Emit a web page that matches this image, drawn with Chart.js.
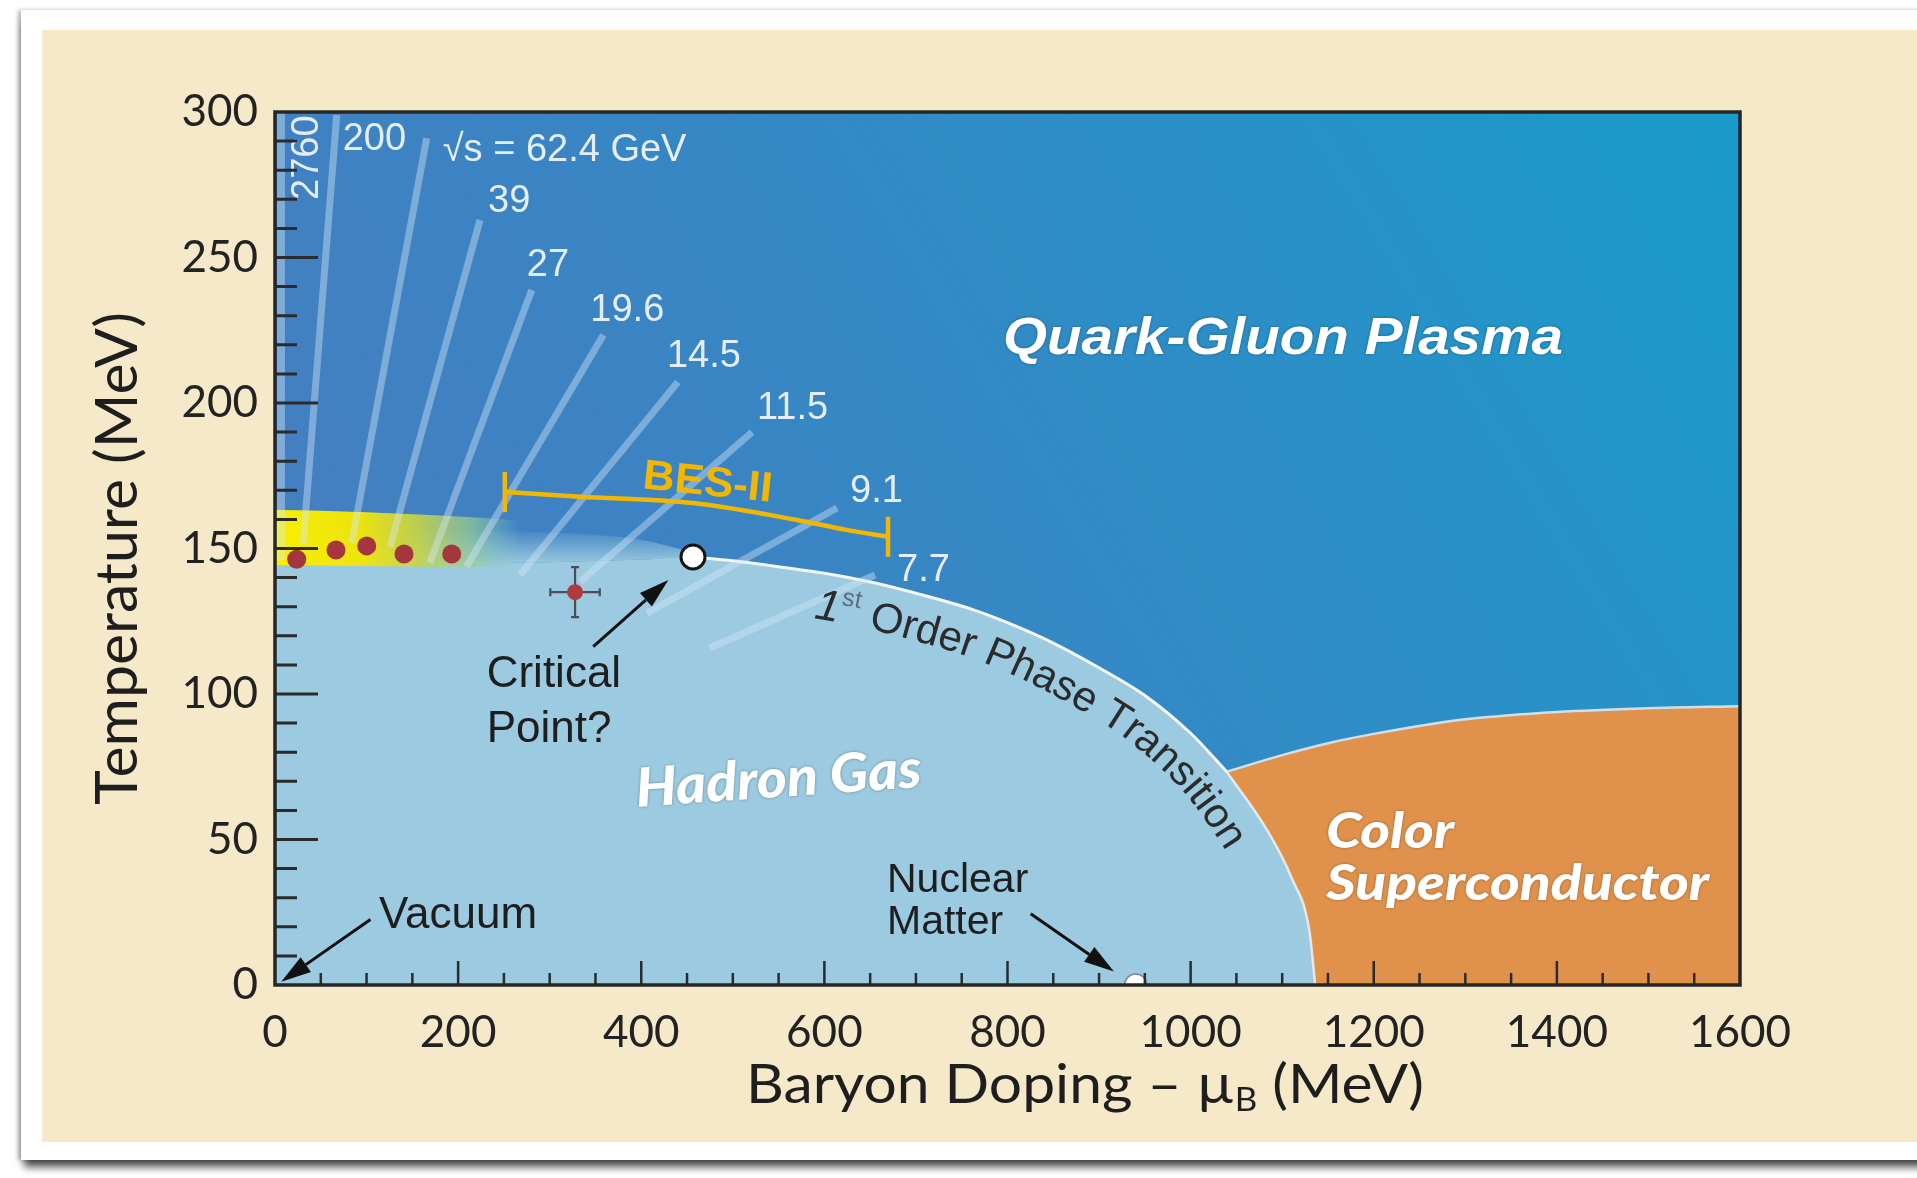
<!DOCTYPE html>
<html>
<head>
<meta charset="utf-8">
<title>QCD phase diagram</title>
<script src="https://cdn.jsdelivr.net/npm/chart.js@4.4.1/dist/chart.umd.min.js"></script>
<style>
  html, body { margin:0; padding:0; width:1917px; height:1178px; overflow:hidden; background:#ffffff; }
  #card { position:absolute; left:21px; top:10px; width:1910px; height:1150px; background:#ffffff;
          box-shadow: -3px 0 4px rgba(0,0,0,0.28), 0 10px 8px -3px rgba(0,0,0,0.7); }
  #panel { position:absolute; left:42px; top:30px; width:1875px; height:1112px; background:#f5e9ca; }
  #panel canvas { position:absolute; left:0; top:0; }
</style>
</head>
<body>
<div id="card"></div>
<div id="panel"><canvas id="phase" width="1875" height="1112"></canvas></div>
<script>
const SANS = '"Liberation Sans", Arial, Helvetica, sans-serif';
const LATO = 'Lato, "Liberation Sans", sans-serif';

// ---------- axis ticks (MeV) ----------
const muTicks   = [0, 200, 400, 600, 800, 1000, 1200, 1400, 1600];
const tempTicks = [0, 50, 100, 150, 200, 250, 300];

// ---------- phase boundaries: baryon chemical potential μB and temperature T (MeV) ----------
const crossoverMu    = [0, 100, 200, 300, 400, 456.5];
const crossoverT     = [145, 145, 145, 145.3, 146.2, 147.1];
const crossoverFadeT = [156, 156, 156, 155.5, 153, 148.5];

const firstOrderMu = [456.5, 500, 560, 600, 653, 700, 762, 800, 850, 900, 950, 1000, 1039.4];
const firstOrderT  = [147.1, 145.8, 143.3, 141.5, 138.3, 134.6, 129, 124.5, 117.5, 109, 99.5, 86.5, 73.3];

const hadronCscMu = [1039.4, 1083, 1110, 1130, 1136];
const hadronCscT  = [73.3, 53.5, 37, 18, 0];

const cscTopMu = [1039.4, 1100, 1156, 1200, 1265, 1300, 1400, 1500, 1600];
const cscTopT  = [73.3, 79, 83.5, 86.3, 89.8, 91.3, 93.8, 95.1, 95.8];

// crossover band from lattice QCD
const bandMu      = [0, 50, 100, 150, 200, 250, 265];
const bandTopT    = [163.2, 163, 162.5, 161.8, 161, 160, 159.5];
const bandBottomT = [144.3, 144.2, 144, 143.8, 143.7, 143.8, 144];

// ---------- collision-energy trajectories ----------
const beamLabels = ['2760', '200', '\u221As = 62.4 GeV', '39', '27', '19.6', '14.5', '11.5', '9.1', '7.7'];
const beamTopMu  = [6.5, 67.4, 165.7, 223.9, 280.4, 358.6, 440, 521, 613.8, 655.3];
const beamTopT   = [300, 299, 291, 262.9, 238.8, 223.4, 207.2, 190, 163.9, 140.9];
const beamEndMu  = [6.5, 30.9, 83.8, 125.6, 169, 209, 267.6, 333, 406, 475];
const beamEndT   = [146, 151.9, 151.9, 150.5, 145, 143.7, 140.9, 138.5, 127.8, 115.8];

// ---------- BES-II coverage ----------
const besMu = [251, 333, 456.5, 570, 624, 669.5];
const besT  = [169.4, 167.8, 165.6, 159.8, 156.4, 154];
const besCapHalf = 6.9;

// ---------- points ----------
const freezeMu = [23.7, 66.6, 100.2, 140.9, 193];
const freezeT  = [146.3, 149.5, 150.9, 148.1, 148.1];
const latticeMu = [327.7], latticeT = [135], latticeErrMu = [27], latticeErrT = [8.6];
const criticalMu = [456.5], criticalT = [147.1];
const nuclearMu = [940], nuclearT = [0];

const pts = (xs, ys) => xs.map((x, i) => ({ x, y: ys[i] }));
const hadronMu = crossoverMu.concat(firstOrderMu.slice(1), hadronCscMu.slice(1));
const hadronT  = crossoverT.concat(firstOrderT.slice(1), hadronCscT.slice(1));

const NONE = 'rgba(0,0,0,0)';

function bandFill(context) {
  const chart = context.chart;
  if (!chart.chartArea) return 'rgba(245,232,0,0.9)';
  const xs = chart.scales.x;
  const g = chart.ctx.createLinearGradient(xs.getPixelForValue(0), 0, xs.getPixelForValue(270), 0);
  g.addColorStop(0.00, 'rgba(250,238,0,1)');
  g.addColorStop(0.35, 'rgba(240,230,10,0.97)');
  g.addColorStop(0.58, 'rgba(200,212,70,0.9)');
  g.addColorStop(0.80, 'rgba(150,205,150,0.7)');
  g.addColorStop(1.00, 'rgba(130,200,200,0)');
  return g;
}

function fadeFill(context) {
  const chart = context.chart;
  if (!chart.chartArea) return 'rgba(156,202,224,0.5)';
  const ys = chart.scales.y;
  const g = chart.ctx.createLinearGradient(0, ys.getPixelForValue(157), 0, ys.getPixelForValue(144.5));
  g.addColorStop(0, 'rgba(156,202,224,0)');
  g.addColorStop(1, 'rgba(156,202,224,1)');
  return g;
}

const datasets = [
  { label: 'Color superconductor', data: pts(cscTopMu, cscTopT), fill: 'origin', backgroundColor: '#e0924c',
    borderColor: 'rgba(214,228,238,0.95)', borderWidth: 2.5, cubicInterpolationMode: 'monotone', order: 100 },
  { label: 'Hadron gas', data: pts(hadronMu, hadronT), fill: 'origin', backgroundColor: '#9ccae0',
    borderColor: NONE, borderWidth: 0, cubicInterpolationMode: 'monotone', order: 90 },
  { label: 'Crossover edge', data: pts(crossoverMu, crossoverFadeT), fill: '+1', backgroundColor: fadeFill,
    borderColor: NONE, borderWidth: 0, cubicInterpolationMode: 'monotone', order: 85 },
  { label: 'Crossover', data: pts(crossoverMu, crossoverT), fill: false,
    borderColor: NONE, borderWidth: 0, cubicInterpolationMode: 'monotone', order: 86 },
  { label: '1st order', data: pts(firstOrderMu, firstOrderT), fill: false,
    borderColor: '#f3f7fa', borderWidth: 3, cubicInterpolationMode: 'monotone', order: 80 },
  { label: 'Hadron / CSC', data: pts(hadronCscMu, hadronCscT), fill: false,
    borderColor: 'rgba(236,242,246,0.85)', borderWidth: 2.5, cubicInterpolationMode: 'monotone', order: 80 },
  { label: 'Crossover band', data: pts(bandMu, bandTopT), fill: '+1', backgroundColor: bandFill,
    borderColor: NONE, borderWidth: 0, cubicInterpolationMode: 'monotone', order: 70 },
  { label: 'Crossover band low', data: pts(bandMu, bandBottomT), fill: false,
    borderColor: NONE, borderWidth: 0, cubicInterpolationMode: 'monotone', order: 71 }
];

beamLabels.forEach((lab, i) => {
  datasets.push({
    label: 'beam ' + lab,
    data: [{ x: beamEndMu[i], y: beamEndT[i] }, { x: beamTopMu[i], y: beamTopT[i] }],
    borderColor: 'rgba(214,232,250,0.42)', borderWidth: i === 0 ? 8 : 7, fill: false, order: 60
  });
});

const BES_GOLD = '#f2b705';
datasets.push(
  { label: 'BES-II', data: pts(besMu, besT), borderColor: BES_GOLD, borderWidth: 4.5, fill: false,
    cubicInterpolationMode: 'monotone', order: 50 },
  { label: 'BES-II cap low', data: [{ x: besMu[0], y: besT[0] - besCapHalf }, { x: besMu[0], y: besT[0] + besCapHalf }],
    borderColor: BES_GOLD, borderWidth: 4.5, fill: false, order: 50 },
  { label: 'BES-II cap high', data: [{ x: besMu[besMu.length - 1], y: besT[besT.length - 1] - besCapHalf },
    { x: besMu[besMu.length - 1], y: besT[besT.length - 1] + besCapHalf }],
    borderColor: BES_GOLD, borderWidth: 4.5, fill: false, order: 50 },
  { label: 'Freeze-out', data: pts(freezeMu, freezeT), showLine: false, pointRadius: 9.5,
    pointBackgroundColor: '#a5363f', pointBorderWidth: 0, order: 10 },
  { label: 'lattice', data: pts(latticeMu, latticeT), showLine: false, pointRadius: 8,
    pointBackgroundColor: '#b03a42', pointBorderWidth: 0, order: 10 },
  { label: 'Critical point', data: pts(criticalMu, criticalT), showLine: false, pointRadius: 12,
    pointBackgroundColor: '#ffffff', pointBorderColor: '#141414', pointBorderWidth: 3, order: 5 },
  { label: 'Nuclear matter', data: pts(nuclearMu, nuclearT), showLine: false, pointRadius: 11,
    pointBackgroundColor: '#ffffff', pointBorderColor: 'rgba(110,110,110,0.8)', pointBorderWidth: 1.5, order: 5 }
);

// ---------- annotations ----------
// label offsets (px) from the upper end of each trajectory
const beamLabelOffsets = [[37.5, 88], [6, 35], [16, 23], [8, -8], [-5, -14], [-13, -14], [-11, -15], [5, -13], [13, -6], [22, 6]];

const arrows = [
  { from: [347.6, 116.3], to: [429.6, 139.2] },  // critical point
  { from: [104.2, 22.5], to: [6.8, 1.1] },       // vacuum
  { from: [825.3, 24.5], to: [916.2, 4.6] }      // nuclear matter
];

function catmull(p, n) {
  const out = [];
  for (let i = 0; i < p.length - 1; i++) {
    const p0 = p[Math.max(i - 1, 0)], p1 = p[i], p2 = p[i + 1], p3 = p[Math.min(i + 2, p.length - 1)];
    for (let k = 0; k < n; k++) {
      const t = k / n, t2 = t * t, t3 = t2 * t;
      const f = (a, b, c, d) => 0.5 * (2 * b + (-a + c) * t + (2 * a - 5 * b + 4 * c - d) * t2 + (-a + 3 * b - 3 * c + d) * t3);
      out.push({ x: f(p0.x, p1.x, p2.x, p3.x), y: f(p0.y, p1.y, p2.y, p3.y) });
    }
  }
  out.push(p[p.length - 1]);
  return out;
}

function drawRuns(ctx, runs, x, y, targetWidth, angle) {
  let total = 0;
  runs.forEach(r => { ctx.font = r.font; r.w = ctx.measureText(r.text).width; total += r.w; });
  const sx = targetWidth ? targetWidth / total : 1;
  ctx.save();
  ctx.translate(x, y);
  if (angle) ctx.rotate(angle);
  ctx.scale(sx, 1);
  ctx.textAlign = 'left';
  ctx.textBaseline = 'alphabetic';
  let cx = 0;
  runs.forEach(r => { ctx.font = r.font; ctx.fillStyle = r.color; ctx.fillText(r.text, cx, r.dy || 0); cx += r.w; });
  ctx.restore();
  return sx;
}

function drawArrow(ctx, x1, y1, x2, y2) {
  const ang = Math.atan2(y2 - y1, x2 - x1), head = 30, half = 9;
  const bx = x2 - Math.cos(ang) * head, by = y2 - Math.sin(ang) * head;
  ctx.beginPath(); ctx.moveTo(x1, y1); ctx.lineTo(bx, by); ctx.stroke();
  ctx.beginPath();
  ctx.moveTo(x2, y2);
  ctx.lineTo(bx + Math.sin(ang) * half, by - Math.cos(ang) * half);
  ctx.lineTo(bx - Math.sin(ang) * half, by + Math.cos(ang) * half);
  ctx.closePath(); ctx.fill();
}

function drawCurvedLabel(chart, ctx) {
  const xs = chart.scales.x, ys = chart.scales.y;
  const mus = firstOrderMu.concat(hadronCscMu.slice(1));
  const ts = firstOrderT.concat(hadronCscT.slice(1));
  const raw = mus.map((m, i) => ({ x: xs.getPixelForValue(m), y: ys.getPixelForValue(ts[i]) }));
  const dense = catmull(raw, 24);
  const off = 46;
  const path = dense.map((p, i) => {
    const a = dense[Math.max(i - 1, 0)], b = dense[Math.min(i + 1, dense.length - 1)];
    let tx = b.x - a.x, ty = b.y - a.y; const L = Math.hypot(tx, ty) || 1; tx /= L; ty /= L;
    return { x: p.x - ty * off, y: p.y + tx * off };
  });
  const cum = [0];
  for (let i = 1; i < path.length; i++) cum.push(cum[i - 1] + Math.hypot(path[i].x - path[i - 1].x, path[i].y - path[i - 1].y));
  const at = s => {
    let j = 0;
    while (j < cum.length - 2 && cum[j + 1] < s) j++;
    const a = path[j], b = path[j + 1], seg = (cum[j + 1] - cum[j]) || 1, f = (s - cum[j]) / seg;
    return { x: a.x + (b.x - a.x) * f, y: a.y + (b.y - a.y) * f, ang: Math.atan2(b.y - a.y, b.x - a.x) };
  };
  const startX = xs.getPixelForValue(595);
  let i0 = dense.findIndex(p => p.x >= startX);
  let s = cum[Math.max(i0, 0)];
  const runs = [
    { text: '1', font: 'italic 44px ' + SANS, color: '#2b2b2b', rise: 0 },
    { text: 'st', font: '25px ' + SANS, color: '#5f6e7c', rise: 18 },
    { text: ' Order Phase Transition', font: '42px ' + SANS, color: '#2b2b2b', rise: 0 }
  ];
  ctx.save();
  ctx.textAlign = 'center';
  ctx.textBaseline = 'alphabetic';
  runs.forEach(r => {
    ctx.font = r.font; ctx.fillStyle = r.color;
    for (const ch of r.text) {
      const w = ctx.measureText(ch).width;
      const p = at(s + w / 2);
      ctx.save(); ctx.translate(p.x, p.y); ctx.rotate(p.ang); ctx.fillText(ch, 0, -r.rise); ctx.restore();
      s += w;
    }
  });
  ctx.restore();
}

const phasePlugin = {
  id: 'phaseDiagram',
  beforeDatasetsDraw(chart) {
    const { ctx, chartArea: a } = chart;
    const g = ctx.createLinearGradient(a.left, a.bottom, a.right, a.top);
    g.addColorStop(0.00, '#4a7cbf');
    g.addColorStop(0.35, '#3c83c3');
    g.addColorStop(0.70, '#2b8fc7');
    g.addColorStop(1.00, '#1a9bca');
    ctx.save(); ctx.fillStyle = g; ctx.fillRect(a.left, a.top, a.width, a.height); ctx.restore();
  },
  beforeDatasetDraw(chart, args) {
    if (chart.data.datasets[args.index].label !== 'lattice') return;
    const { ctx } = chart, xs = chart.scales.x, ys = chart.scales.y;
    ctx.save();
    ctx.strokeStyle = '#4d4d55'; ctx.lineWidth = 2.2;
    latticeMu.forEach((m, i) => {
      const x = xs.getPixelForValue(m), y = ys.getPixelForValue(latticeT[i]);
      const xl = xs.getPixelForValue(m - latticeErrMu[i]), xr = xs.getPixelForValue(m + latticeErrMu[i]);
      const yt = ys.getPixelForValue(latticeT[i] + latticeErrT[i]), yb = ys.getPixelForValue(latticeT[i] - latticeErrT[i]);
      ctx.beginPath();
      ctx.moveTo(xl, y); ctx.lineTo(xr, y); ctx.moveTo(x, yt); ctx.lineTo(x, yb);
      ctx.moveTo(xl, y - 4); ctx.lineTo(xl, y + 4); ctx.moveTo(xr, y - 4); ctx.lineTo(xr, y + 4);
      ctx.moveTo(x - 4, yt); ctx.lineTo(x + 4, yt); ctx.moveTo(x - 4, yb); ctx.lineTo(x + 4, yb);
      ctx.stroke();
    });
    ctx.restore();
  },
  afterDatasetsDraw(chart) {
    const { ctx, chartArea: a } = chart, xs = chart.scales.x, ys = chart.scales.y;
    const P = (m, t) => [xs.getPixelForValue(m), ys.getPixelForValue(t)];
    ctx.save();

    // collision energy labels
    ctx.fillStyle = 'rgba(236,243,250,0.96)';
    ctx.font = '38px ' + SANS;
    ctx.textBaseline = 'alphabetic';
    ctx.textAlign = 'left';
    beamLabels.forEach((lab, i) => {
      const [x, y] = P(beamTopMu[i], beamTopT[i]);
      const [dx, dy] = beamLabelOffsets[i];
      if (i === 0) {
        ctx.save(); ctx.translate(x + dx, y + dy); ctx.rotate(-Math.PI / 2); ctx.fillText(lab, 0, 0); ctx.restore();
      } else {
        ctx.fillText(lab, x + dx, y + dy);
      }
    });

    // BES-II label
    {
      const [x, y] = P(400.5, 170.7);
      drawRuns(ctx, [{ text: 'BES-II', font: 'bold 42px ' + SANS, color: BES_GOLD }], x, y, 130, 6 * Math.PI / 180);
    }

    // region names
    ctx.shadowColor = 'rgba(0,0,0,0.35)'; ctx.shadowBlur = 3;
    {
      const [x, y] = P(795, 216.8);
      drawRuns(ctx, [{ text: 'Quark-Gluon Plasma', font: 'italic bold 52px ' + SANS, color: '#ffffff' }], x, y, 560);
    }
    {
      const [x, y] = P(395.4, 61.2);
      drawRuns(ctx, [{ text: 'Hadron Gas', font: 'italic 900 54px ' + LATO, color: '#ffffff' }], x, y, 286, -4 * Math.PI / 180);
    }
    {
      const [x, y2] = P(1148, 29.2);
      const sx = drawRuns(ctx, [{ text: 'Superconductor', font: 'italic 900 50px ' + LATO, color: '#ffffff' }], x, y2, 383);
      const [, y1] = P(1148, 47.1);
      ctx.save(); ctx.font = 'italic 900 50px ' + LATO;
      const w = ctx.measureText('Color').width; ctx.restore();
      drawRuns(ctx, [{ text: 'Color', font: 'italic 900 50px ' + LATO, color: '#ffffff' }], x, y1, w * sx);
    }
    ctx.shadowColor = 'rgba(0,0,0,0)'; ctx.shadowBlur = 0;

    // dark annotations
    ctx.fillStyle = '#1e1e1e';
    ctx.textAlign = 'left';
    ctx.font = '44px ' + SANS;
    { const [x, y] = P(231.2, 102.5); ctx.fillText('Critical', x, y); ctx.fillText('Point?', x, y + 55); }
    { const [x, y] = P(113.6, 19.6); ctx.fillText('Vacuum', x, y); }
    ctx.font = '41px ' + SANS;
    { const [x, y] = P(668.4, 32.1); ctx.fillText('Nuclear', x, y); ctx.fillText('Matter', x, y + 42); }

    // arrows
    ctx.strokeStyle = '#111'; ctx.fillStyle = '#111'; ctx.lineWidth = 3;
    arrows.forEach(ar => {
      const [x1, y1] = P(ar.from[0], ar.from[1]);
      const [x2, y2] = P(ar.to[0], ar.to[1]);
      drawArrow(ctx, x1, y1, x2, y2);
    });

    drawCurvedLabel(chart, ctx);

    // inward tick marks
    ctx.strokeStyle = '#2b2b2b';
    ctx.lineWidth = 3;
    ctx.beginPath();
    for (let v = tempTicks[0] + 10; v < tempTicks[tempTicks.length - 1]; v += 10) {
      const y = ys.getPixelForValue(v), len = tempTicks.includes(v) ? 43 : 22;
      ctx.moveTo(a.left, y); ctx.lineTo(a.left + len, y);
    }
    ctx.stroke();
    ctx.lineWidth = 2.5;
    ctx.beginPath();
    for (let v = muTicks[0] + 50; v < muTicks[muTicks.length - 1]; v += 50) {
      const x = xs.getPixelForValue(v), len = muTicks.includes(v) ? 24 : 12;
      ctx.moveTo(x, a.bottom); ctx.lineTo(x, a.bottom - len);
    }
    ctx.stroke();

    // frame
    ctx.lineWidth = 3.5;
    ctx.strokeStyle = '#262626';
    ctx.strokeRect(a.left, a.top, a.width, a.height);

    // axis titles
    drawRuns(ctx, [{ text: 'Temperature (MeV)', font: '58px ' + LATO, color: '#1e1e1e' }],
      a.left - 138, (a.top + a.bottom) / 2 + 10 + 246.5, 493, -Math.PI / 2);
    drawRuns(ctx, [
      { text: 'Baryon Doping \u2013 \u00B5', font: '54px ' + LATO, color: '#1e1e1e' },
      { text: 'B', font: '32px ' + LATO, color: '#1e1e1e', dy: 8 },
      { text: ' (MeV)', font: '54px ' + LATO, color: '#1e1e1e' }
    ], a.left + 471, a.bottom + 118, 678);

    ctx.restore();
  }
};

new Chart(document.getElementById('phase'), {
  type: 'line',
  data: { datasets },
  plugins: [phasePlugin],
  options: {
    responsive: false,
    animation: false,
    devicePixelRatio: 1,
    events: [],
    layout: { padding: { left: 0, top: 82, right: 177, bottom: 0 } },
    plugins: { legend: { display: false }, tooltip: { enabled: false }, title: { display: false } },
    elements: { point: { radius: 0, hoverRadius: 0 }, line: { fill: false } },
    scales: {
      x: {
        type: 'linear', min: 0, max: 1600,
        afterFit(s) { s.height = 157; },
        afterBuildTicks(s) { s.ticks = muTicks.map(v => ({ value: v })); },
        grid: { display: false, drawTicks: false },
        border: { display: false },
        ticks: { font: { family: 'Lato', size: 44 }, color: '#222', padding: 21, maxRotation: 0, autoSkip: false,
                 callback: v => String(v) }
      },
      y: {
        type: 'linear', min: 0, max: 300,
        afterFit(s) { s.width = 233; },
        afterBuildTicks(s) { s.ticks = tempTicks.map(v => ({ value: v })); },
        grid: { display: false, drawTicks: false },
        border: { display: false },
        ticks: { font: { family: 'Lato', size: 44 }, color: '#222', padding: 17, autoSkip: false,
                 callback: v => String(v) }
      }
    }
  }
});
</script>
</body>
</html>
